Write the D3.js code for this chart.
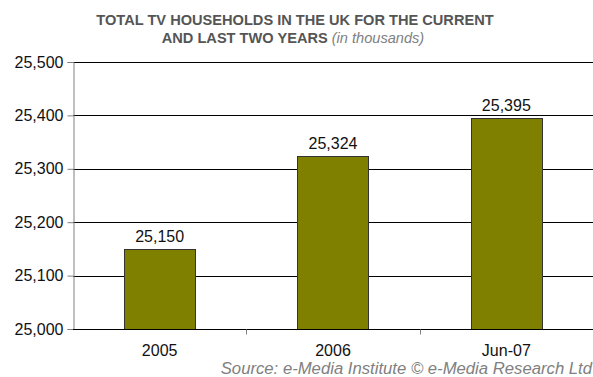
<!DOCTYPE html>
<html>
<head>
<meta charset="utf-8">
<script src="https://cdn.jsdelivr.net/npm/d3@7"></script>
<style>
  body { margin: 0; background: #fff; }
  svg { display: block; font-family: "Liberation Sans", Arial, sans-serif; }
</style>
</head>
<body>
<svg id="chart" width="593" height="377"></svg>
<script>
  // chart data
  var categories = ['2005', '2006', 'Jun-07'];
  var households = [25150, 25324, 25395];
  var yTicks = [25000, 25100, 25200, 25300, 25400, 25500];

  var svg = d3.select('#chart'),
      margin = {top: 62, right: 0, bottom: 48, left: 73},
      width = 593 - margin.left - margin.right,
      height = 377 - margin.top - margin.bottom;

  var x = d3.scaleBand().domain(categories).range([0, width]).paddingInner(0.59).paddingOuter(0.295);
  var xGroup = d3.scaleBand().domain(categories).range([0, width]);
  var y = d3.scaleLinear().domain([25000, 25500]).range([height, 0]);
  var fmt = d3.format(',');

  var g = svg.append('g').attr('transform', 'translate(' + margin.left + ',' + margin.top + ')');

  // gridlines
  g.selectAll('.grid').data(yTicks).enter().append('line')
    .attr('x1', 0).attr('x2', width)
    .attr('y1', function(d) { return Math.round(y(d)) + 0.5; })
    .attr('y2', function(d) { return Math.round(y(d)) + 0.5; })
    .style('stroke', '#000').style('stroke-width', 1);

  // y axis
  var yAxis = g.append('g').attr('transform', 'translate(0.5,0)')
    .call(d3.axisLeft(y).tickValues(yTicks).tickFormat(fmt).tickSize(6).tickPadding(4));
  yAxis.select('.domain').style('stroke', '#808080');
  yAxis.selectAll('.tick line').style('stroke', '#808080');
  yAxis.selectAll('text').style('font-size', '16px').style('fill', '#111');

  // bars
  g.selectAll('.bar').data(households).enter().append('rect')
    .attr('x', function(d, i) { return Math.round(x(categories[i])) + 0.5; })
    .attr('y', function(d) { return Math.round(y(d)) + 0.5; })
    .attr('width', Math.round(x.bandwidth()))
    .attr('height', function(d) { return Math.round(height - y(d)); })
    .style('fill', '#808000').style('stroke', '#333').style('stroke-width', 1);

  // value labels
  g.selectAll('.val').data(households).enter().append('text')
    .attr('x', function(d, i) { return x(categories[i]) + x.bandwidth() / 2; })
    .attr('y', function(d) { return y(d) - 7; })
    .attr('text-anchor', 'middle')
    .style('font-size', '16px').style('fill', '#111')
    .text(function(d) { return fmt(d); });

  // x axis
  var xAxis = g.append('g').attr('transform', 'translate(0,' + (height + 0.5) + ')');
  xAxis.append('line').attr('x1', 0).attr('x2', width).style('stroke', '#000');
  xAxis.selectAll('.xtick').data(categories.slice(1)).enter().append('line')
    .attr('x1', function(d) { return Math.round(xGroup(d)) + 0.5; })
    .attr('x2', function(d) { return Math.round(xGroup(d)) + 0.5; })
    .attr('y1', 0).attr('y2', 5).style('stroke', '#808080');
  xAxis.selectAll('.xlab').data(categories).enter().append('text')
    .attr('x', function(d) { return xGroup(d) + xGroup.bandwidth() / 2; })
    .attr('y', 26)
    .attr('text-anchor', 'middle')
    .style('font-size', '16px').style('fill', '#111')
    .text(function(d) { return d; });

  // title
  var title = svg.append('text').attr('text-anchor', 'middle')
    .style('font-size', '14.6px').style('font-weight', 'bold').style('fill', '#555');
  title.append('tspan').attr('x', 295).attr('y', 25).text('TOTAL TV HOUSEHOLDS IN THE UK FOR THE CURRENT');
  title.append('tspan').attr('x', 293).attr('y', 43).text('AND LAST TWO YEARS ');
  title.append('tspan').style('font-weight', 'normal').style('font-style', 'italic').style('fill', '#808080')
    .text('(in thousands)');

  // source
  svg.append('text').attr('x', 592).attr('y', 374).attr('text-anchor', 'end')
    .style('font-size', '16.7px').style('font-style', 'italic').style('fill', '#808080')
    .text('Source: e-Media Institute \u00a9 e-Media Research Ltd');
</script>
</body>
</html>
